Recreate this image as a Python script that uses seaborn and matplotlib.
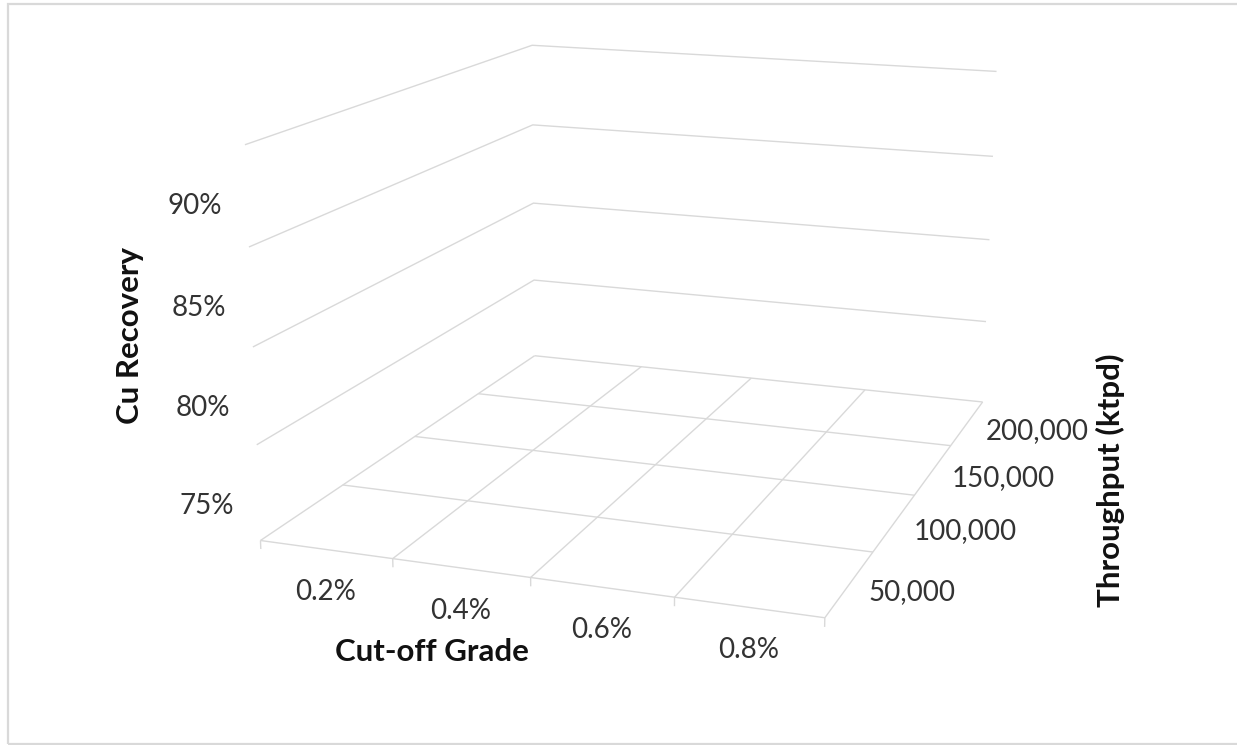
import numpy as np
import matplotlib
matplotlib.use("Agg")
import matplotlib.pyplot as plt
from matplotlib.patches import Rectangle
from matplotlib.transforms import offset_copy
from mpl_toolkits.mplot3d import proj3d
import seaborn as sns

sns.set_theme(style="white")
plt.rcParams["font.family"] = ["Lato", "DejaVu Sans"]

# Category axes and value axis of the 3-D surface frame
cutoff_grades = ["0.2%", "0.4%", "0.6%", "0.8%"]
throughputs = ["50,000", "100,000", "150,000", "200,000"]
recovery_ticks = [0.75, 0.80, 0.85, 0.90]
recovery_floor = 0.70

GRID = "#d9d9d9"
TICK_TXT = "#333333"
TITLE_TXT = "#111111"
FS_TICK = 20
FS_TITLE = 22.5

W, H = 1237, 745
fig = plt.figure(figsize=(W / 100, H / 100), dpi=100)

# chart-area border
fig.patches.append(Rectangle((8 / W, 1 - 744 / H), 1240 / W, 740 / H,
                             transform=fig.transFigure, fill=False,
                             edgecolor="#d9d9d9", lw=1.6))

# 3-D plot area (square panel, perspective camera)
S = 906.9
ax = fig.add_axes([190.65 / W, -8.92 / H, S / W, S / H], projection="3d")
ax.set_proj_type("persp", focal_length=0.4662)
ax.view_init(elev=14.18, azim=-70.71, roll=-0.32)
ax.set_box_aspect((1, 1.2348, 0.6885))
ax.set_axis_off()

nx, ny = len(cutoff_grades), len(throughputs)
xb = np.arange(nx + 1)
yb = np.arange(ny + 1)
z0 = recovery_floor
ztop = recovery_ticks[-1]
line_kw = dict(color=GRID, lw=1.0, solid_capstyle="butt")

# floor grid
for x in xb:
    ax.plot([x, x], [0, ny], [z0, z0], **line_kw)
for y in yb:
    ax.plot([0, nx], [y, y], [z0, z0], **line_kw)

# major gridlines on the side and back walls
for z in recovery_ticks:
    ax.plot([0, 0, nx], [0, ny, ny], [z, z, z], **line_kw)

# tick marks along the front edge
tick_len = 0.0045
for x in xb:
    ax.plot([x, x], [0, 0], [z0, z0 - tick_len], **line_kw)

ax.set_xlim(0, nx)
ax.set_ylim(0, ny)
ax.set_zlim(z0, ztop)

M = ax.get_proj()


def label(x, y, z, text, dx, dy, ha):
    """Place a tick label at the projected 3-D anchor, nudged by pixels."""
    px, py, _ = proj3d.proj_transform(x, y, z, M)
    tr = offset_copy(ax.transData, fig=fig, x=dx, y=dy, units="dots")
    ax.text2D(px, py, text, transform=tr, ha=ha, va="center",
              fontsize=FS_TICK, color=TICK_TXT)


for i, lab in enumerate(cutoff_grades):
    label(i + 0.5, 0, z0, lab, 0, -43, "center")
for j, lab in enumerate(throughputs):
    label(nx, j + 0.5, z0, lab, 19, -8, "left")
for z in recovery_ticks:
    label(0, 0, z, f"{z:.0%}", -50, -61, "center")

# axis titles
fig.text(130 / W, 1 - 336 / H, "Cu Recovery", rotation=90, ha="center",
         va="center", fontsize=FS_TITLE, fontweight="bold", color=TITLE_TXT)
fig.text(432 / W, 1 - 652 / H, "Cut-off Grade", ha="center", va="center",
         fontsize=FS_TITLE, fontweight="bold", color=TITLE_TXT)
fig.text(1110 / W, 1 - 480 / H, "Throughput (ktpd)", rotation=90,
         ha="center", va="center", fontsize=FS_TITLE, fontweight="bold",
         color=TITLE_TXT)

fig.savefig("out.png", dpi=100)
